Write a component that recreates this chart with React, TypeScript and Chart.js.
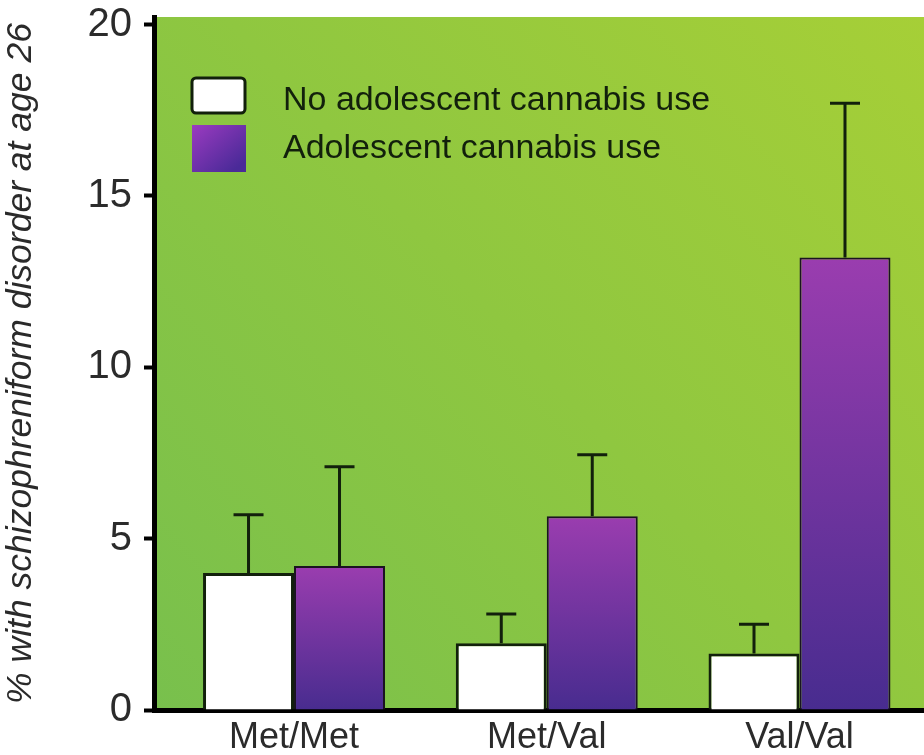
import { useEffect, useRef } from 'react';
import { Chart, registerables } from 'chart.js';

Chart.register(...registerables);

// Genotype groups on the x axis
const genotypes = ['Met/Met', 'Met/Val', 'Val/Val'];
// Series names
const seriesLabels = ['No adolescent cannabis use', 'Adolescent cannabis use'];
// Percentages and their error (SE) for each group
const noUseMeans = [4.0, 1.95, 1.65];
const noUseErrors = [1.7, 0.85, 0.85];
const useMeans = [4.2, 5.65, 13.2];
const useErrors = [2.9, 1.8, 4.5];
// Y axis ticks and title
const yTicks = [0, 5, 10, 15, 20];
const yTitle = '% with schizophreniform disorder at age 26';

const FONT = '"Liberation Sans", Arial, Helvetica, sans-serif';
const INK = '#12200c';

const purpleTop = '#9a3daf';
const purpleBottom = '#482c8f';

function purpleFill(ctx: any) {
  const chart = ctx.chart;
  const area = chart.chartArea;
  if (!area || ctx.type !== 'data' || !ctx.parsed) return '#6a34a0';
  const y = chart.scales.y;
  const top = y.getPixelForValue(ctx.parsed.y);
  const bottom = y.getPixelForValue(0);
  const g = chart.ctx.createLinearGradient(0, top, 0, bottom);
  g.addColorStop(0, purpleTop);
  g.addColorStop(1, purpleBottom);
  return g;
}

// Green gradient behind the plotting area
const plotBackground = {
  id: 'plotBackground',
  beforeDraw(chart: any) {
    const { ctx, chartArea: a } = chart;
    if (!a) return;
    const g = ctx.createLinearGradient(a.right, a.top, a.left, a.bottom);
    g.addColorStop(0, '#a6cf37');
    g.addColorStop(0.5, '#8fc740');
    g.addColorStop(1, '#78c04d');
    ctx.save();
    ctx.fillStyle = g;
    ctx.fillRect(a.left, a.top, a.right - a.left, a.bottom - a.top);
    ctx.restore();
  },
};

// Upper error bars with caps
const errorBars = {
  id: 'errorBars',
  afterDatasetsDraw(chart: any) {
    const { ctx } = chart;
    const y = chart.scales.y;
    ctx.save();
    ctx.strokeStyle = INK;
    ctx.lineWidth = 3;
    chart.data.datasets.forEach((ds: any, i: number) => {
      const meta = chart.getDatasetMeta(i);
      meta.data.forEach((bar: any, j: number) => {
        const v = ds.data[j].y;
        const top = y.getPixelForValue(v + ds.errors[j]);
        ctx.beginPath();
        ctx.moveTo(bar.x, bar.y);
        ctx.lineTo(bar.x, top);
        ctx.moveTo(bar.x - 15, top);
        ctx.lineTo(bar.x + 15, top);
        ctx.stroke();
      });
    });
    ctx.restore();
  },
};

// Legend drawn inside the plotting area, top left
const innerLegend = {
  id: 'innerLegend',
  afterDraw(chart: any) {
    const { ctx, chartArea: a } = chart;
    if (!a) return;
    const bx = a.left + 38;
    ctx.save();
    // white swatch
    ctx.beginPath();
    ctx.roundRect(bx, a.top + 61, 53, 35, 4);
    ctx.fillStyle = '#ffffff';
    ctx.fill();
    ctx.lineWidth = 3;
    ctx.strokeStyle = INK;
    ctx.stroke();
    // purple swatch
    const g = ctx.createLinearGradient(bx, a.top + 108, bx + 40, a.top + 155);
    g.addColorStop(0, '#9b3bc0');
    g.addColorStop(1, '#4a2a98');
    ctx.fillStyle = g;
    ctx.fillRect(bx, a.top + 108, 54, 47);

    ctx.fillStyle = INK;
    ctx.font = `34px ${FONT}`;
    ctx.textBaseline = 'middle';
    ctx.textAlign = 'left';
    chart.data.datasets.forEach((ds: any, i: number) => {
      ctx.fillText(ds.label, a.left + 129, a.top + 84 + i * 48);
    });
    ctx.restore();
  },
};

export default function App() {
  const canvasRef = useRef<HTMLCanvasElement | null>(null);

  useEffect(() => {
    if (!canvasRef.current) return;
    Chart.defaults.font.family = FONT;

    const chart = new Chart(canvasRef.current, {
      type: 'bar',
      data: {
        datasets: [
          {
            label: seriesLabels[0],
            data: noUseMeans.map((v, i) => ({ x: i, y: v })),
            errors: noUseErrors,
            backgroundColor: '#ffffff',
            borderColor: INK,
            borderWidth: 3,
            borderSkipped: 'start',
          } as any,
          {
            label: seriesLabels[1],
            data: useMeans.map((v, i) => ({ x: i, y: v })),
            errors: useErrors,
            backgroundColor: purpleFill,
            borderColor: '#1a1420',
            borderWidth: 2,
            borderSkipped: 'start',
          } as any,
        ],
      },
      options: {
        animation: false,
        responsive: false,
        devicePixelRatio: 1,
        layout: { padding: { top: 17, left: 0, right: 0, bottom: 0 } },
        datasets: { bar: { categoryPercentage: 0.72, barPercentage: 1.0 } },
        plugins: { legend: { display: false }, tooltip: { enabled: false } },
        scales: {
          x: {
            type: 'linear',
            min: -0.554,
            max: 2.4926,
            offset: false,
            afterBuildTicks: (s: any) => {
              s.ticks = genotypes.map((_, i) => ({ value: i }));
            },
            afterFit: (s: any) => {
              s.height = 45;
              s.paddingLeft = 0;
              s.paddingRight = 0;
            },
            grid: { display: false, drawTicks: false, offset: false },
            border: { display: true, color: '#000', width: 5 },
            ticks: {
              callback: (v: any) => genotypes[v] ?? '',
              autoSkip: false,
              maxRotation: 0,
              padding: 6,
              color: '#2b2b2b',
              font: { size: 36 },
            },
          },
          y: {
            min: 0,
            max: 20.22,
            afterBuildTicks: (s: any) => {
              s.ticks = yTicks.map((v) => ({ value: v }));
            },
            afterFit: (s: any) => {
              s.width = 154;
              s.paddingTop = 0;
              s.paddingBottom = 0;
            },
            grid: {
              drawOnChartArea: false,
              drawTicks: true,
              tickLength: 10,
              tickWidth: 4,
              tickColor: '#000',
            },
            border: { display: true, color: '#000', width: 5 },
            ticks: { padding: 12, color: '#2b2b2b', font: { size: 40 } },
            title: {
              display: true,
              text: yTitle,
              color: '#2a2a2a',
              padding: { top: 0, bottom: 0 },
              font: { size: 35.5, style: 'italic' },
            },
          },
        },
      } as any,
      plugins: [plotBackground, errorBars, innerLegend],
    });

    return () => chart.destroy();
  }, []);

  return (
    <div style={{ position: 'fixed', left: 0, top: 0, width: 924, height: 755, background: '#fff' }}>
      <canvas ref={canvasRef} width={924} height={755} />
    </div>
  );
}
